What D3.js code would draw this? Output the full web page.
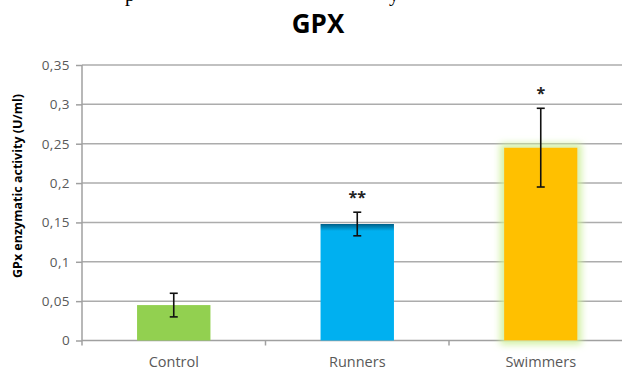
<!DOCTYPE html>
<html>
<head>
<meta charset="utf-8">
<script src="https://cdn.jsdelivr.net/npm/d3@7"></script>
<style>
  html, body { margin: 0; padding: 0; background: #fff; }
  svg { display: block; }
</style>
</head>
<body>
<svg id="chart" width="622" height="370"></svg>
<script>
// GPx enzymatic activity by group (U/ml)
const categories = ["Control", "Runners", "Swimmers"];
const means = [0.045, 0.148, 0.245];
const errors = [0.015, 0.015, 0.05];
const significance = ["", "**", "*"];
const yTicks = [0, 0.05, 0.1, 0.15, 0.2, 0.25, 0.3, 0.35];
const yTickLabels = ["0", "0,05", "0,1", "0,15", "0,2", "0,25", "0,3", "0,35"];
const barColors = ["#92d050", "#00b0f0", "#ffc000"];

const svg = d3.select("#chart");
const width = 622, height = 370;
const plot = { left: 82, right: 632.5, top: 65, bottom: 340.5 };
const uiFont = "'Open Sans', Lato, sans-serif";

const x = d3.scaleBand()
  .domain(categories)
  .range([plot.left, plot.right])
  .paddingInner(0.6)
  .paddingOuter(0.3);

const y = d3.scaleLinear()
  .domain([0, 0.35])
  .range([plot.bottom, plot.top]);

const defs = svg.append("defs");

// darker top edge on the runners bar
const grad = defs.append("linearGradient")
  .attr("id", "runnersFill").attr("x1", 0).attr("y1", 0).attr("x2", 0).attr("y2", 1);
grad.append("stop").attr("offset", "0%").attr("stop-color", "#005f88");
grad.append("stop").attr("offset", "3%").attr("stop-color", "#0088bb");
grad.append("stop").attr("offset", "6%").attr("stop-color", "#00b0f0");
grad.append("stop").attr("offset", "100%").attr("stop-color", "#00b0f0");

// soft green glow around the swimmers bar
const glow = defs.append("filter").attr("id", "glow")
  .attr("x", "-40%").attr("y", "-20%").attr("width", "180%").attr("height", "140%");
glow.append("feMorphology").attr("in", "SourceAlpha").attr("operator", "dilate").attr("radius", 4).attr("result", "grown");
glow.append("feGaussianBlur").attr("in", "grown").attr("stdDeviation", 3.5).attr("result", "blur");
glow.append("feFlood").attr("flood-color", "#cdef9a").attr("flood-opacity", 0.9);
glow.append("feComposite").attr("in2", "blur").attr("operator", "in").attr("result", "halo");
const merge = glow.append("feMerge");
merge.append("feMergeNode").attr("in", "halo");
merge.append("feMergeNode").attr("in", "SourceGraphic");

// caption line above the chart, clipped by the top edge
svg.append("g")
  .attr("font-family", "'Liberation Serif', serif")
  .attr("font-size", 20)
  .attr("fill", "#000")
  .selectAll("text")
  .data([{ t: "p", x: 125 }, { t: "y", x: 389 }])
  .join("text")
  .attr("x", d => d.x)
  .attr("y", 0.5)
  .text(d => d.t);

// title
svg.append("text")
  .attr("x", 318)
  .attr("y", 33)
  .attr("text-anchor", "middle")
  .attr("font-family", uiFont)
  .attr("font-weight", "bold")
  .attr("font-size", 26)
  .attr("fill", "#000")
  .text("GPX");

// horizontal gridlines
svg.append("g")
  .selectAll("line")
  .data(yTicks.slice(1))
  .join("line")
  .attr("x1", plot.left)
  .attr("x2", width)
  .attr("y1", d => y(d))
  .attr("y2", d => y(d))
  .attr("stroke", "#acacac")
  .attr("stroke-width", 1.5);

// y axis
const yAxis = d3.axisLeft(y)
  .tickValues(yTicks)
  .tickSize(6)
  .tickPadding(6)
  .tickFormat((d, i) => yTickLabels[i]);

const gy = svg.append("g")
  .attr("transform", `translate(${plot.left},0)`)
  .call(yAxis);
gy.select(".domain").attr("stroke", "#a0a0a0").attr("stroke-width", 1.5)
  .attr("d", `M0,${plot.top}V${plot.bottom + 5}`);
gy.selectAll(".tick line").attr("stroke", "#a0a0a0").attr("stroke-width", 1.5);
gy.selectAll(".tick text")
  .attr("font-family", uiFont)
  .attr("font-size", 13.5)
  .attr("letter-spacing", 0.4)
  .attr("fill", "#595959");

// x axis
const xAxis = d3.axisBottom(x).tickSize(0).tickPadding(16);
const gx = svg.append("g")
  .attr("transform", `translate(0,${plot.bottom})`)
  .call(xAxis);
gx.select(".domain").remove();
gx.append("line")
  .attr("x1", plot.left).attr("x2", width)
  .attr("stroke", "#a0a0a0").attr("stroke-width", 1.5);
// category separator ticks
gx.selectAll(".sep")
  .data(categories.slice(1))
  .join("line")
  .attr("class", "sep")
  .attr("x1", d => x(d) - x.step() * x.paddingInner() / 2)
  .attr("x2", d => x(d) - x.step() * x.paddingInner() / 2)
  .attr("y1", 0).attr("y2", 5)
  .attr("stroke", "#a0a0a0").attr("stroke-width", 1.5);
gx.selectAll(".tick text")
  .attr("font-family", uiFont)
  .attr("font-size", 14.5)
  .attr("fill", "#595959");

// bars
const rows = categories.map((c, i) => ({ c, v: means[i], e: errors[i], s: significance[i], col: barColors[i] }));

svg.append("g")
  .selectAll("rect")
  .data(rows)
  .join("rect")
  .attr("x", d => x(d.c))
  .attr("y", d => y(d.v))
  .attr("width", x.bandwidth())
  .attr("height", d => y(0) - y(d.v))
  .attr("fill", (d, i) => i === 1 ? "url(#runnersFill)" : d.col)
  .attr("filter", (d, i) => i === 2 ? "url(#glow)" : null);

// error bars
const eb = svg.append("g").attr("stroke", "#111").attr("stroke-width", 1.6);
const cap = 4;
rows.forEach(d => {
  const cx = x(d.c) + x.bandwidth() / 2;
  eb.append("line").attr("x1", cx).attr("x2", cx).attr("y1", y(d.v + d.e)).attr("y2", y(d.v - d.e));
  eb.append("line").attr("x1", cx - cap).attr("x2", cx + cap).attr("y1", y(d.v + d.e)).attr("y2", y(d.v + d.e));
  eb.append("line").attr("x1", cx - cap).attr("x2", cx + cap).attr("y1", y(d.v - d.e)).attr("y2", y(d.v - d.e));
});

// significance markers
svg.append("g")
  .selectAll("text")
  .data(rows.filter(d => d.s))
  .join("text")
  .attr("x", d => x(d.c) + x.bandwidth() / 2)
  .attr("y", d => y(d.v + d.e) - 9)
  .attr("text-anchor", "middle")
  .attr("font-family", uiFont)
  .attr("font-weight", "bold")
  .attr("font-size", 16)
  .attr("fill", "#222")
  .text(d => d.s);

// y axis title
svg.append("text")
  .attr("transform", "translate(22,186) rotate(-90)")
  .attr("text-anchor", "middle")
  .attr("font-family", uiFont)
  .attr("font-weight", "bold")
  .attr("font-size", 12.5)
  .attr("fill", "#000")
  .text("GPx enzymatic activity (U/ml)");
</script>
</body>
</html>
